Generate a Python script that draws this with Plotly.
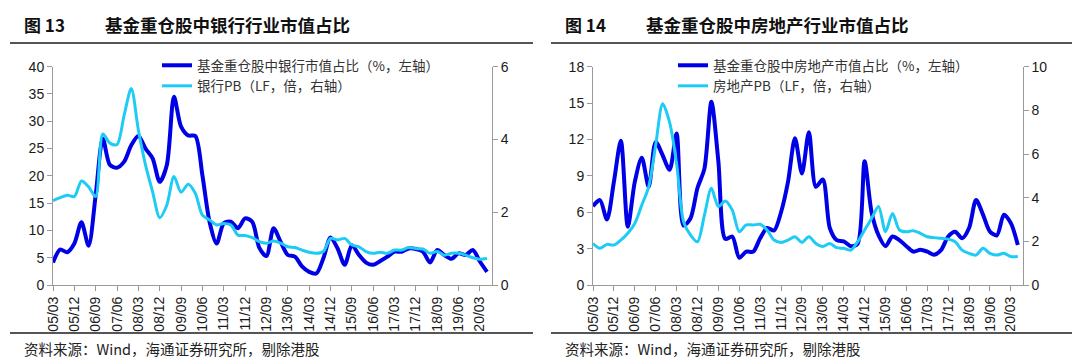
import plotly.graph_objects as go

# ---------------- data ----------------
tick_labels = ["05/03", "05/12", "06/09", "07/06", "08/03", "08/12", "09/09", "10/06",
               "11/03", "11/12", "12/09", "13/06", "14/03", "14/12", "15/09", "16/06",
               "17/03", "17/12", "18/09", "19/06", "20/03"]
# quarterly points 05/03 ... 20/06 (62 quarters)
quarters = []
y, m = 2005, 3
for _ in range(62):
    quarters.append(f"{y % 100:02d}/{m:02d}")
    m += 3
    if m > 12:
        m -= 12
        y += 1

bank_share = [4.1, 6.5, 6.0, 7.6, 11.5, 7.2, 16.5, 26.8, 22.0, 21.5,
              22.6, 25.6, 27.3, 25.0, 23.2, 18.9, 22.0, 34.5, 29.0, 27.4,
              27.3, 20.1, 11.6, 7.6, 11.3, 11.6, 10.4, 12.2, 11.6, 6.8,
              5.3, 10.4, 7.9, 5.5, 5.2, 3.4, 2.4, 2.1, 4.9, 8.7,
              6.7, 3.7, 7.3, 5.5, 4.1, 3.7, 4.4, 5.2, 6.1, 6.1,
              6.7, 6.6, 6.1, 4.1, 6.4, 5.5, 4.8, 5.8, 5.5, 6.4,
              4.3, 2.4]
bank_pb = [2.32, 2.40, 2.47, 2.43, 2.86, 2.70, 2.43, 4.15, 3.90, 3.86,
           4.67, 5.40, 4.26, 3.30, 2.56, 1.85, 2.20, 2.98, 2.55, 2.77,
           2.52, 1.92, 1.79, 1.65, 1.69, 1.65, 1.37, 1.36, 1.30, 1.19,
           1.15, 1.21, 1.15, 1.05, 1.03, 0.96, 0.90, 0.87, 0.92, 1.28,
           1.24, 1.28, 1.10, 1.05, 0.92, 0.87, 0.90, 0.87, 0.96, 0.96,
           1.03, 1.00, 0.99, 0.87, 0.92, 0.82, 0.87, 0.87, 0.82, 0.75,
           0.71, 0.73]
re_share = [6.5, 7.0, 5.4, 8.5, 11.9, 4.8, 8.5, 10.5, 8.1, 11.8,
            10.7, 9.5, 12.5, 4.9, 5.5, 8.0, 9.6, 15.1, 10.2, 3.8,
            4.0, 2.25, 2.75, 2.75, 3.85, 4.7, 4.5, 6.0, 8.5, 12.1,
            9.2, 12.6, 8.1, 8.7, 4.7, 3.7, 3.6, 3.2, 3.4, 10.2,
            6.0, 4.1, 3.2, 4.0, 3.7, 3.2, 2.75, 2.9, 2.75, 2.5,
            2.9, 4.0, 4.4, 3.85, 4.7, 7.0, 5.8, 4.4, 4.1, 5.8,
            5.1, 3.3]
re_pb = [1.90, 1.68, 1.86, 1.83, 2.06, 2.37, 2.82, 3.66, 4.50, 6.40,
         8.30, 7.45, 5.57, 2.90, 2.29, 1.98, 3.20, 4.43, 3.60, 3.85,
         3.43, 2.44, 2.75, 2.75, 2.78, 2.52, 2.06, 1.95, 2.06, 2.21,
         1.95, 2.21, 1.90, 1.76, 1.90, 1.71, 1.68, 1.60, 1.98, 2.52,
         3.05, 3.60, 2.44, 3.28, 2.52, 2.44, 2.49, 2.37, 2.21, 2.17,
         2.14, 2.10, 1.98, 1.60, 1.45, 1.37, 1.68, 1.45, 1.37, 1.45,
         1.30, 1.30]

left_title_num, left_title = "图 13", "基金重仓股中银行行业市值占比"
right_title_num, right_title = "图 14", "基金重仓股中房地产行业市值占比"
source_text = "资料来源：Wind，海通证券研究所，剔除港股"

# ---------------- styling ----------------
OFF = 8                      # page body margin of the browser
W, H = 1080 - OFF, 361 - OFF
DARK = "#0000e6"
CYAN = "#1ecbf5"
AX = "#9a9a9a"
TXT = "#1a1a1a"
CJK = "Noto Sans CJK SC"
LAT = "Liberation Sans, Arial, " + CJK

idx = list(range(len(quarters)))
tick_pos = [quarters.index(t) for t in tick_labels]

def px_x(p): return (p - OFF) / W
def px_y(p): return 1 - (p - OFF) / H

fig = go.Figure()

panels = [
    dict(x0=53, x1=492, share=bank_share, pb=bank_pb, lmax=40, ldt=5, rmax=6, rdt=2,
         n1="基金重仓股中银行市值占比（%，左轴）", n2="银行PB（LF，倍，右轴）",
         xa="x", ya="y", ya2="y2", leg="legend"),
    dict(x0=593, x1=1022.7, share=re_share, pb=re_pb, lmax=18, ldt=3, rmax=10, rdt=2,
         n1="基金重仓股中房地产市值占比（%，左轴）", n2="房地产PB（LF，倍，右轴）",
         xa="x2", ya="y3", ya2="y4", leg="legend2"),
]

for p in panels:
    fig.add_trace(go.Scatter(x=idx, y=p["share"], mode="lines", name=p["n1"],
                             line=dict(color=DARK, width=4, shape="spline", smoothing=0.8),
                             xaxis=p["xa"], yaxis=p["ya"], legend=p["leg"]))
    fig.add_trace(go.Scatter(x=idx, y=p["pb"], mode="lines", name=p["n2"],
                             line=dict(color=CYAN, width=3, shape="spline", smoothing=0.8),
                             xaxis=p["xa"], yaxis=p["ya2"], legend=p["leg"]))

ydom = [px_y(285), px_y(66.7)]
tickfont = dict(family=LAT, size=14, color=TXT)

def xaxis_cfg(p, anchor):
    return dict(domain=[px_x(p["x0"]), px_x(p["x1"])], anchor=anchor, automargin=False,
                range=[0, 61.7], tickmode="array", tickvals=tick_pos, ticktext=tick_labels,
                tickangle=-90, showline=True, linecolor=AX, linewidth=1,
                ticks="outside", ticklen=5, tickcolor=AX, showgrid=False, zeroline=False,
                tickfont=tickfont)

def yaxis_cfg(p, xa, rng, dt, side, overlay=None):
    d = dict(domain=ydom, anchor=xa, range=[0, rng], dtick=dt, side=side, automargin=False,
             showline=True, linecolor=AX, linewidth=1, ticks="outside", ticklen=5,
             tickcolor=AX, showgrid=False, zeroline=False, tickfont=tickfont)
    if overlay:
        d["overlaying"] = overlay
    return d

p0, p1 = panels
fig.update_layout(
    xaxis=xaxis_cfg(p0, "y"),
    xaxis2=xaxis_cfg(p1, "y3"),
    yaxis=yaxis_cfg(p0, "x", p0["lmax"], p0["ldt"], "left"),
    yaxis2=yaxis_cfg(p0, "x", p0["rmax"], p0["rdt"], "right", "y"),
    yaxis3=yaxis_cfg(p1, "x2", p1["lmax"], p1["ldt"], "left"),
    yaxis4=yaxis_cfg(p1, "x2", p1["rmax"], p1["rdt"], "right", "y3"),
)

legcommon = dict(bgcolor="rgba(0,0,0,0)", font=dict(family=CJK, size=13.5, color="#333333"),
                 xanchor="left", yanchor="top", tracegroupgap=0, itemwidth=30,
                 y=px_y(50))
fig.update_layout(
    legend=dict(x=px_x(157), **legcommon),
    legend2=dict(x=px_x(673), **legcommon),
)

# header/footer rules and texts
shapes = []
annos = []
for (a, b), num, title in [((10, 533), left_title_num, left_title),
                           ((551, 1075), right_title_num, right_title)]:
    for yy in (6, 43, 333):
        shapes.append(dict(type="line", xref="paper", yref="paper",
                           x0=px_x(a), x1=px_x(b), y0=px_y(yy), y1=px_y(yy),
                           line=dict(color="#555555", width=2)))
    annos.append(dict(x=px_x(a + 12), y=px_y(25), xref="paper", yref="paper",
                      text=f"<b>{num}</b>", showarrow=False, xanchor="left", yanchor="middle",
                      font=dict(family=CJK, size=17, color="#111111")))
    annos.append(dict(x=px_x(a + 93), y=px_y(25), xref="paper", yref="paper",
                      text=f"<b>{title}</b>", showarrow=False, xanchor="left", yanchor="middle",
                      font=dict(family=CJK, size=17.5, color="#111111")))
    annos.append(dict(x=px_x(a + 12), y=px_y(348), xref="paper", yref="paper",
                      text=source_text, showarrow=False, xanchor="left", yanchor="middle",
                      font=dict(family=CJK, size=14.5, color="#222222")))

fig.update_layout(
    width=W, height=H, margin=dict(l=0, r=0, t=0, b=0),
    paper_bgcolor="white", plot_bgcolor="white",
    shapes=shapes, annotations=annos, showlegend=True,
)

fig.write_html("out.html")
